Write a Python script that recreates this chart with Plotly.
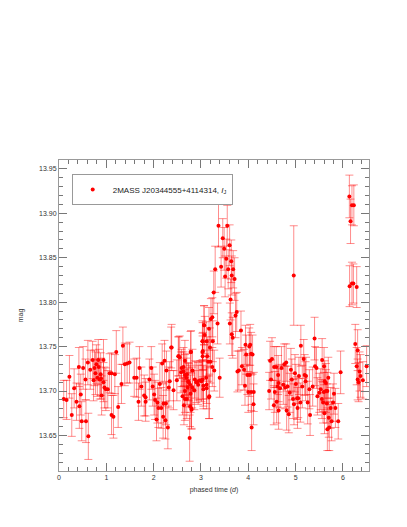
import plotly.graph_objects as go

# phased light curve, 2MASS J20344555+4114314
phase = [
    0.10, 0.16, 0.22, 0.27, 0.32, 0.37, 0.42, 0.43, 0.46, 0.48, 0.51, 0.56, 0.57, 0.61, 0.62,
    0.66, 0.71, 0.73, 0.75, 0.77, 0.79, 0.81, 0.83, 0.84, 0.86, 0.88, 0.89, 0.90, 0.94, 0.94,
    0.96, 0.99, 1.03, 1.07, 1.11, 1.11, 1.15, 1.18, 1.21, 1.25, 1.32, 1.35, 1.39, 1.44, 1.49,
    1.59, 1.64, 1.70, 1.74, 1.80, 1.83, 1.83, 1.68, 1.91, 1.95, 1.98, 2.01, 2.03, 2.06, 2.08,
    2.10, 2.13, 2.16, 2.18, 2.20, 2.21, 2.23, 2.25, 2.26, 2.27, 2.30, 2.32, 2.34, 2.38, 2.42,
    2.49, 2.52, 2.55, 2.58, 2.61, 2.63, 2.66, 2.64, 2.66, 2.70, 2.72, 2.74, 2.76, 2.78, 2.80,
    2.82, 2.86, 2.90, 2.94, 2.98,
    2.59, 2.63, 2.66, 2.69, 2.73, 2.77, 2.815, 2.87, 2.94, 3.01, 3.05, 2.78, 2.66, 2.70, 2.77,
    2.80, 3.04, 3.03, 3.065, 2.79, 2.53, 2.37, 3.08, 3.15, 3.17, 3.12,
    3.37, 3.555, 3.46, 3.49, 3.605, 3.535, 3.64, 3.425, 3.575, 3.68, 3.30, 3.51, 3.65, 3.71,
    3.625, 3.27, 3.24, 3.21, 3.17, 3.065, 3.35, 3.73, 3.755, 3.61, 3.845, 3.65, 3.67, 3.035,
    3.12, 3.25, 3.19, 3.03, 3.035, 3.13, 3.20, 3.24, 3.28, 3.395, 3.11, 3.035, 3.05, 3.12,
    3.175, 3.94, 4.02, 4.04, 3.955, 4.06, 4.09, 3.77, 3.80, 3.865, 3.91, 3.98, 4.03, 3.93,
    4.00, 4.06, 4.115, 4.11, 4.07,
    4.46, 4.50, 4.545, 4.48, 4.44, 4.56, 4.54, 4.60, 4.64, 4.59, 4.63, 4.64, 4.62, 4.67,
    4.70, 4.74, 4.76, 4.80, 4.78, 4.81, 4.83, 4.855, 4.875, 4.90, 4.92, 4.945, 4.965, 4.985,
    5.005, 5.03, 5.04, 5.055, 5.07, 5.11, 5.10, 5.14, 5.17, 5.19, 5.22, 5.21, 5.255, 5.29,
    5.305, 5.36, 5.40, 5.41, 5.44, 5.46, 5.50, 5.53, 5.555, 5.56, 5.58, 5.595, 5.60, 5.615,
    5.64, 5.64, 5.61, 5.66, 5.67, 5.69, 5.70, 5.67, 5.71, 5.74, 5.76, 5.79, 5.81, 5.84, 5.90,
    5.95, 4.96,
    6.26, 6.31, 6.29, 6.35, 6.37, 6.31, 6.33, 6.42, 6.50,
    6.135, 6.19, 6.23, 6.16, 6.14, 6.19, 6.22, 6.29,
]

mag = [
    13.691, 13.690, 13.716, 13.673, 13.703, 13.688, 13.727, 13.683, 13.696, 13.666, 13.726, 13.713, 13.666, 13.732, 13.649,
    13.724, 13.735, 13.712, 13.726, 13.720, 13.730, 13.715, 13.735, 13.727, 13.713, 13.719, 13.714, 13.695, 13.735, 13.710,
    13.704, 13.702, 13.702, 13.720, 13.720, 13.673, 13.671, 13.719, 13.744, 13.682, 13.708, 13.751, 13.730, 13.731, 13.732,
    13.715, 13.715, 13.726, 13.705, 13.695, 13.693, 13.688, 13.688, 13.713, 13.726, 13.705, 13.696, 13.690, 13.668, 13.687,
    13.681, 13.708, 13.681, 13.731, 13.671, 13.686, 13.734, 13.667, 13.686, 13.723, 13.659, 13.704, 13.711, 13.749, 13.701,
    13.712, 13.739, 13.738, 13.721, 13.694, 13.727, 13.734, 13.684, 13.691, 13.719, 13.704, 13.710, 13.647, 13.744, 13.680,
    13.723, 13.701, 13.710, 13.711, 13.712,
    13.726, 13.722, 13.718, 13.715, 13.711, 13.707, 13.704, 13.713, 13.707, 13.711, 13.702, 13.697, 13.700, 13.691, 13.683,
    13.679, 13.745, 13.756, 13.774, 13.744, 13.739, 13.749, 13.763, 13.733, 13.693, 13.703,
    13.886, 13.886, 13.872, 13.860, 13.864, 13.849, 13.846, 13.840, 13.837, 13.837, 13.837, 13.829, 13.830, 13.826,
    13.803, 13.811, 13.783, 13.781, 13.770, 13.774, 13.776, 13.785, 13.789, 13.776, 13.768, 13.764, 13.760, 13.756,
    13.756, 13.756, 13.749, 13.744, 13.739, 13.739, 13.733, 13.727, 13.723, 13.715, 13.715, 13.713, 13.706, 13.707,
    13.694, 13.752, 13.750, 13.752, 13.741, 13.742, 13.741, 13.722, 13.723, 13.728, 13.724, 13.718, 13.718, 13.706,
    13.699, 13.699, 13.699, 13.685, 13.659,
    13.734, 13.736, 13.727, 13.713, 13.700, 13.699, 13.684, 13.688, 13.678, 13.727, 13.718, 13.709, 13.705, 13.703,
    13.726, 13.707, 13.730, 13.732, 13.704, 13.678, 13.705, 13.674, 13.698, 13.724, 13.713, 13.691, 13.685, 13.720,
    13.708, 13.692, 13.681, 13.692, 13.717, 13.751, 13.687, 13.705, 13.736, 13.718, 13.717, 13.711, 13.687, 13.702,
    13.673, 13.705, 13.759, 13.728, 13.726, 13.694, 13.698, 13.702, 13.691, 13.735, 13.687, 13.699, 13.728, 13.711,
    13.709, 13.700, 13.675, 13.686, 13.700, 13.715, 13.670, 13.657, 13.659, 13.681, 13.666, 13.687, 13.697, 13.681, 13.666,
    13.721, 13.830,
    13.753, 13.746, 13.728, 13.722, 13.717, 13.713, 13.710, 13.712, 13.728,
    13.919, 13.909, 13.909, 13.891, 13.818, 13.821, 13.821, 13.817,
]

mag_err = [
    0.021, 0.022, 0.024, 0.024, 0.022, 0.021, 0.022, 0.025, 0.023, 0.022, 0.024, 0.023, 0.024, 0.025, 0.026,
    0.022, 0.021, 0.023, 0.020, 0.024, 0.022, 0.021, 0.023, 0.020, 0.022, 0.024, 0.023, 0.022, 0.023, 0.022,
    0.023, 0.024, 0.021, 0.022, 0.023, 0.022, 0.024, 0.022, 0.024, 0.023, 0.022, 0.021, 0.024, 0.022, 0.023,
    0.021, 0.022, 0.024, 0.022, 0.023, 0.021, 0.022, 0.021, 0.023, 0.024, 0.022, 0.023, 0.022, 0.024, 0.023,
    0.022, 0.024, 0.023, 0.022, 0.024, 0.022, 0.023, 0.021, 0.024, 0.022, 0.024, 0.023, 0.022, 0.026, 0.022,
    0.023, 0.022, 0.024, 0.023, 0.021, 0.022, 0.023, 0.022, 0.024, 0.023, 0.022, 0.021, 0.026, 0.023, 0.022,
    0.024, 0.022, 0.023, 0.021, 0.022,
    0.021, 0.022, 0.023, 0.022, 0.021, 0.022, 0.023, 0.021, 0.022, 0.023, 0.022, 0.021, 0.024, 0.022, 0.023,
    0.022, 0.021, 0.023, 0.022, 0.024, 0.022, 0.023, 0.021, 0.022, 0.024, 0.023,
    0.024, 0.023, 0.022, 0.024, 0.023, 0.022, 0.024, 0.023, 0.022, 0.021, 0.026, 0.023, 0.022, 0.024,
    0.023, 0.024, 0.022, 0.023, 0.024, 0.022, 0.023, 0.025, 0.022, 0.023, 0.022, 0.024, 0.023, 0.021,
    0.022, 0.023, 0.022, 0.021, 0.023, 0.022, 0.024, 0.022, 0.023, 0.022, 0.024, 0.022, 0.023, 0.021,
    0.025, 0.022, 0.021, 0.023, 0.022, 0.024, 0.022, 0.023, 0.022, 0.021, 0.023, 0.022, 0.024, 0.022,
    0.023, 0.021, 0.022, 0.023, 0.026,
    0.022, 0.024, 0.023, 0.022, 0.021, 0.023, 0.022, 0.024, 0.021, 0.023, 0.022, 0.021, 0.023, 0.022,
    0.024, 0.022, 0.023, 0.021, 0.024, 0.022, 0.023, 0.021, 0.022, 0.024, 0.023, 0.022, 0.023, 0.021,
    0.022, 0.024, 0.023, 0.022, 0.021, 0.023, 0.022, 0.024, 0.022, 0.023, 0.021, 0.022, 0.024, 0.022,
    0.023, 0.022, 0.024, 0.022, 0.023, 0.021, 0.022, 0.023, 0.022, 0.024, 0.023, 0.022, 0.021, 0.023,
    0.022, 0.024, 0.023, 0.022, 0.021, 0.023, 0.022, 0.024, 0.026, 0.023, 0.022, 0.021, 0.023, 0.022, 0.020,
    0.024, 0.056,
    0.022, 0.023, 0.021, 0.022, 0.024, 0.023, 0.022, 0.021, 0.023,
    0.024, 0.022, 0.023, 0.025, 0.023, 0.024, 0.022, 0.023,
]

label = "2MASS J20344555+4114314, <i>I</i><sub>J</sub>"
font = "Liberation Sans, Arial"

fig = go.Figure()
fig.add_trace(go.Scatter(
    x=phase, y=mag, mode="markers", name=label,
    marker=dict(color="#ff0000", size=4, line=dict(width=0)),
    error_y=dict(type="data", array=mag_err, visible=True,
                 color="rgba(255,0,0,0.45)", thickness=1, width=4),
))

axis_common = dict(
    showgrid=False, zeroline=False, showline=True, linecolor="#999999", linewidth=1,
    mirror="ticks", ticks="inside", tickcolor="#777777", ticklen=8, tickwidth=1,
    tickfont=dict(family=font, size=7, color="#333333"),
)

fig.update_xaxes(**axis_common, range=[0, 6.55], dtick=1, tick0=0,
                 minor=dict(dtick=0.2, ticks="inside", ticklen=4, tickcolor="#777777"),
                 title=dict(text="phased time (<i>d</i>)", standoff=6,
                            font=dict(family=font, size=7, color="#333333")))
fig.update_yaxes(**axis_common, range=[13.61, 13.96], dtick=0.05, tick0=13.65,
                 tickformat=".2f",
                 minor=dict(dtick=0.01, ticks="inside", ticklen=4, tickcolor="#777777"),
                 title=dict(text="mag", standoff=14,
                            font=dict(family=font, size=7, color="#333333")))

# margins tuned by eye so the plot box lands where the reference has it
fig.update_layout(
    width=407, height=527,
    margin=dict(l=44, r=46, t=152, b=64),
    paper_bgcolor="white", plot_bgcolor="white",
    showlegend=True,
    legend=dict(x=0.041, y=0.955, xanchor="left", yanchor="top",
                bordercolor="#999999", borderwidth=1, bgcolor="white",
                font=dict(family=font, size=8, color="#222222"),
                itemwidth=30, itemsizing="trace"),
)

fig.write_html("out.html")
